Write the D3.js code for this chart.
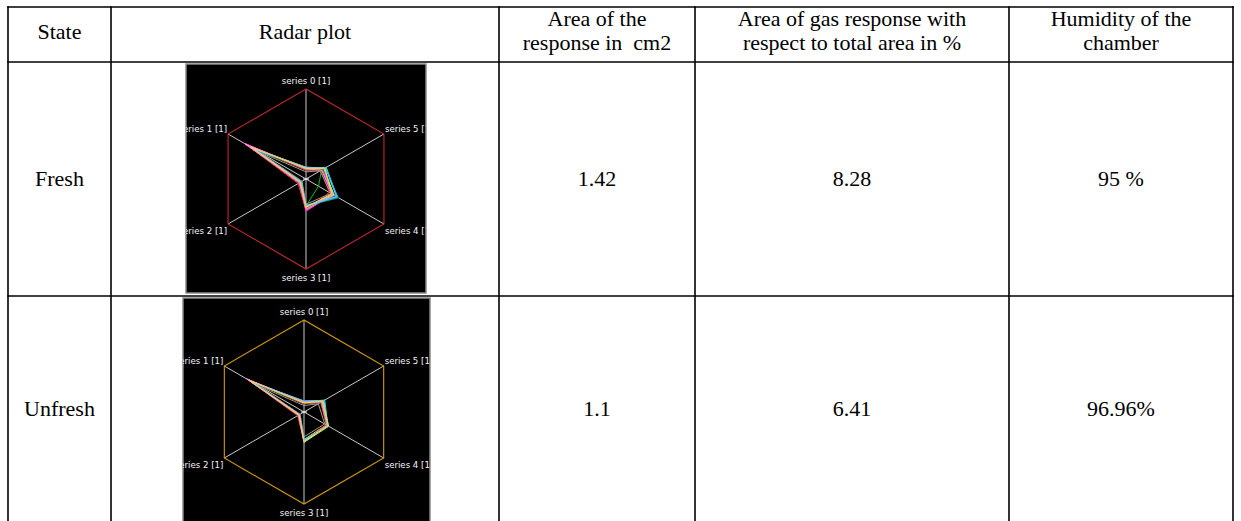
<!DOCTYPE html>
<html lang="en">
<head>
  <meta charset="utf-8">
  <title>Radar table</title>
  <script src="https://d3js.org/d3.v7.min.js"></script>
  <style>
    body { margin: 0; background: #fff; }
    .cell-text { font-family: "Liberation Serif", "Times New Roman", serif; font-size: 22px; fill: #000; white-space: pre; }
    .grid { stroke: #000; stroke-width: 1.6; }
    .axis-label { font-family: "DejaVu Sans", Tahoma, sans-serif; font-size: 8.6px; fill: #f4f4f4; }
  </style>
</head>
<body>
<script>
// Table content
var headers = [
  ["State"],
  ["Radar plot"],
  ["Area of the", "response in  cm2"],
  ["Area of gas response with", "respect to total area in %"],
  ["Humidity of the", "chamber"]
];
var states = ["Fresh", "Unfresh"];
var areaCm2 = ["1.42", "1.1"];
var areaPct = ["8.28", "6.41"];
var humidity = ["95 %", "96.96%"];

// Radar axes and traces (s0..s5, fraction of full radius)
var axisNames = ["series 0 [1]", "series 1 [1]", "series 2 [1]", "series 3 [1]", "series 4 [1]", "series 5 [1]"];
var traceColors = ["#ff00ff", "#ff66cc", "#cc44ff", "#9966ff", "#ffff00", "#ffaa00",
                   "#00c000", "#008800", "#00ffff", "#3399ff", "#ff3333", "#999999",
                   "#99ff66", "#ff99cc", "#66ccff", "#ffcc66"];
var freshTraces = [
  [0.10, 0.80, 0.08, 0.36, 0.33, 0.20],
  [0.11, 0.79, 0.09, 0.35, 0.35, 0.21],
  [0.12, 0.77, 0.07, 0.34, 0.36, 0.22],
  [0.10, 0.75, 0.08, 0.33, 0.37, 0.21],
  [0.13, 0.70, 0.06, 0.31, 0.34, 0.24],
  [0.12, 0.72, 0.07, 0.32, 0.35, 0.23],
  [0.11, 0.68, 0.06, 0.30, 0.16, 0.20],
  [0.10, 0.66, 0.07, 0.30, 0.42, 0.22],
  [0.12, 0.65, 0.08, 0.29, 0.40, 0.26],
  [0.13, 0.64, 0.07, 0.30, 0.41, 0.25],
  [0.10, 0.76, 0.10, 0.35, 0.30, 0.19],
  [0.08, 0.60, 0.05, 0.28, 0.32, 0.18],
  [0.12, 0.71, 0.07, 0.31, 0.36, 0.23],
  [0.11, 0.78, 0.08, 0.34, 0.34, 0.20],
  [0.13, 0.67, 0.06, 0.30, 0.39, 0.25],
  [0.12, 0.69, 0.07, 0.31, 0.33, 0.24]
];
var unfreshTraces = [
  [0.09, 0.72, 0.06, 0.32, 0.30, 0.22],
  [0.10, 0.71, 0.07, 0.33, 0.29, 0.23],
  [0.09, 0.70, 0.06, 0.31, 0.31, 0.22],
  [0.10, 0.69, 0.05, 0.32, 0.30, 0.24],
  [0.11, 0.68, 0.06, 0.30, 0.28, 0.23],
  [0.10, 0.67, 0.07, 0.31, 0.30, 0.22],
  [0.09, 0.66, 0.06, 0.32, 0.29, 0.21],
  [0.10, 0.66, 0.05, 0.31, 0.31, 0.24],
  [0.11, 0.65, 0.06, 0.30, 0.30, 0.26],
  [0.12, 0.64, 0.07, 0.31, 0.29, 0.25],
  [0.09, 0.70, 0.08, 0.32, 0.28, 0.21],
  [0.07, 0.58, 0.05, 0.27, 0.26, 0.18],
  [0.10, 0.69, 0.06, 0.33, 0.31, 0.23],
  [0.11, 0.72, 0.07, 0.32, 0.29, 0.22],
  [0.12, 0.66, 0.06, 0.31, 0.30, 0.25],
  [0.10, 0.68, 0.06, 0.32, 0.30, 0.24]
];

var w = 1241, h = 521;
var colEdges = [8, 111, 499, 695, 1009, 1233];
var rowEdges = [7, 62, 296, 521];

var svg = d3.select("body").append("svg")
  .attr("width", w)
  .attr("height", h);

// grid lines
svg.selectAll(".vline").data(colEdges).enter().append("line")
  .attr("class", "grid")
  .attr("x1", function(d) { return d; }).attr("x2", function(d) { return d; })
  .attr("y1", rowEdges[0] - 0.8).attr("y2", rowEdges[3] + 2);
svg.selectAll(".hline").data(rowEdges.slice(0, 3)).enter().append("line")
  .attr("class", "grid")
  .attr("x1", colEdges[0] - 0.8).attr("x2", colEdges[5] + 0.8)
  .attr("y1", function(d) { return d; }).attr("y2", function(d) { return d; });

var colMid = function(i) { return (colEdges[i] + colEdges[i + 1]) / 2; };
var rowMid = function(i) { return (rowEdges[i] + rowEdges[i + 1]) / 2; };

// header
headers.forEach(function(lines, i) {
  var t = svg.append("text").attr("class", "cell-text")
    .attr("text-anchor", "middle")
    .attr("x", colMid(i));
  var y0 = lines.length == 1 ? rowMid(0) + 4 : rowMid(0) - 9;
  lines.forEach(function(line, j) {
    t.append("tspan").attr("x", colMid(i)).attr("y", y0 + j * 24).text(line);
  });
});

// body text
var bodyCols = [[0, states], [2, areaCm2], [3, areaPct], [4, humidity]];
bodyCols.forEach(function(c) {
  c[1].forEach(function(v, r) {
    svg.append("text").attr("class", "cell-text")
      .attr("text-anchor", "middle")
      .attr("x", colMid(c[0]))
      .attr("y", rowMid(r + 1) + 7)
      .text(v);
  });
});

// radar drawer
var drawRadar = function(panel, center, radius, hexColor, traces, id) {
  var g = svg.append("g");
  svg.append("clipPath").attr("id", id)
    .append("rect")
    .attr("x", panel.x).attr("y", panel.y)
    .attr("width", panel.w).attr("height", panel.h);

  g.append("rect")
    .attr("x", panel.x).attr("y", panel.y)
    .attr("width", panel.w).attr("height", panel.h)
    .attr("fill", "#000")
    .attr("stroke", "#8a8a8a")
    .attr("stroke-width", 1.5);

  var inner = g.append("g").attr("clip-path", "url(#" + id + ")");
  var plot = inner.append("g").attr("transform", "translate(" + center[0] + "," + center[1] + ")");

  var angle = d3.scaleLinear().domain([0, axisNames.length]).range([0, -2 * Math.PI]);
  var r = d3.scaleLinear().domain([0, 1]).range([0, radius]);
  var line = d3.lineRadial()
    .angle(function(d, i) { return angle(i); })
    .radius(function(d) { return r(d); })
    .curve(d3.curveLinearClosed);
  var px = function(i, v) { return r(v) * Math.sin(angle(i)); };
  var py = function(i, v) { return -r(v) * Math.cos(angle(i)); };

  // spokes
  plot.selectAll(".spoke").data(axisNames).enter().append("line")
    .attr("x1", 0).attr("y1", 0)
    .attr("x2", function(d, i) { return px(i, 1); })
    .attr("y2", function(d, i) { return py(i, 1); })
    .attr("stroke", "#c8c8c8").attr("stroke-width", 1);

  // outer hexagon
  plot.append("path")
    .attr("d", line(axisNames.map(function() { return 1; })))
    .attr("fill", "none").attr("stroke", hexColor).attr("stroke-width", 1.1);

  // traces
  plot.selectAll(".trace").data(traces).enter().append("path")
    .attr("d", function(d) { return line(d); })
    .attr("fill", "none")
    .attr("stroke", function(d, i) { return traceColors[i % traceColors.length]; })
    .attr("stroke-width", 1);

  plot.append("line").attr("x1", -3).attr("x2", 3).attr("y1", 0).attr("y2", 0)
    .attr("stroke", "#fff").attr("stroke-width", 1);

  // labels
  plot.selectAll(".axis-label").data(axisNames).enter().append("text")
    .attr("class", "axis-label")
    .attr("x", function(d, i) {
      var x = px(i, 1);
      if (i == 1 || i == 2) return x - 1;
      if (i == 4 || i == 5) return x + 1;
      return x;
    })
    .attr("y", function(d, i) {
      var y = py(i, 1);
      if (i == 0) return y - 5;
      if (i == 3) return y + 12;
      if (i == 1 || i == 5) return y - 2;
      return y + 10;
    })
    .attr("text-anchor", function(d, i) {
      if (i == 1 || i == 2) return "end";
      if (i == 4 || i == 5) return "start";
      return "middle";
    })
    .text(function(d) { return d; });
};

drawRadar({x: 186, y: 64, w: 240, h: 229}, [306, 179], 90, "#c0282a", freshTraces, "clipFresh");
drawRadar({x: 183, y: 298, w: 247, h: 226}, [304, 412], 92, "#d4980e", unfreshTraces, "clipUnfresh");
</script>
</body>
</html>
